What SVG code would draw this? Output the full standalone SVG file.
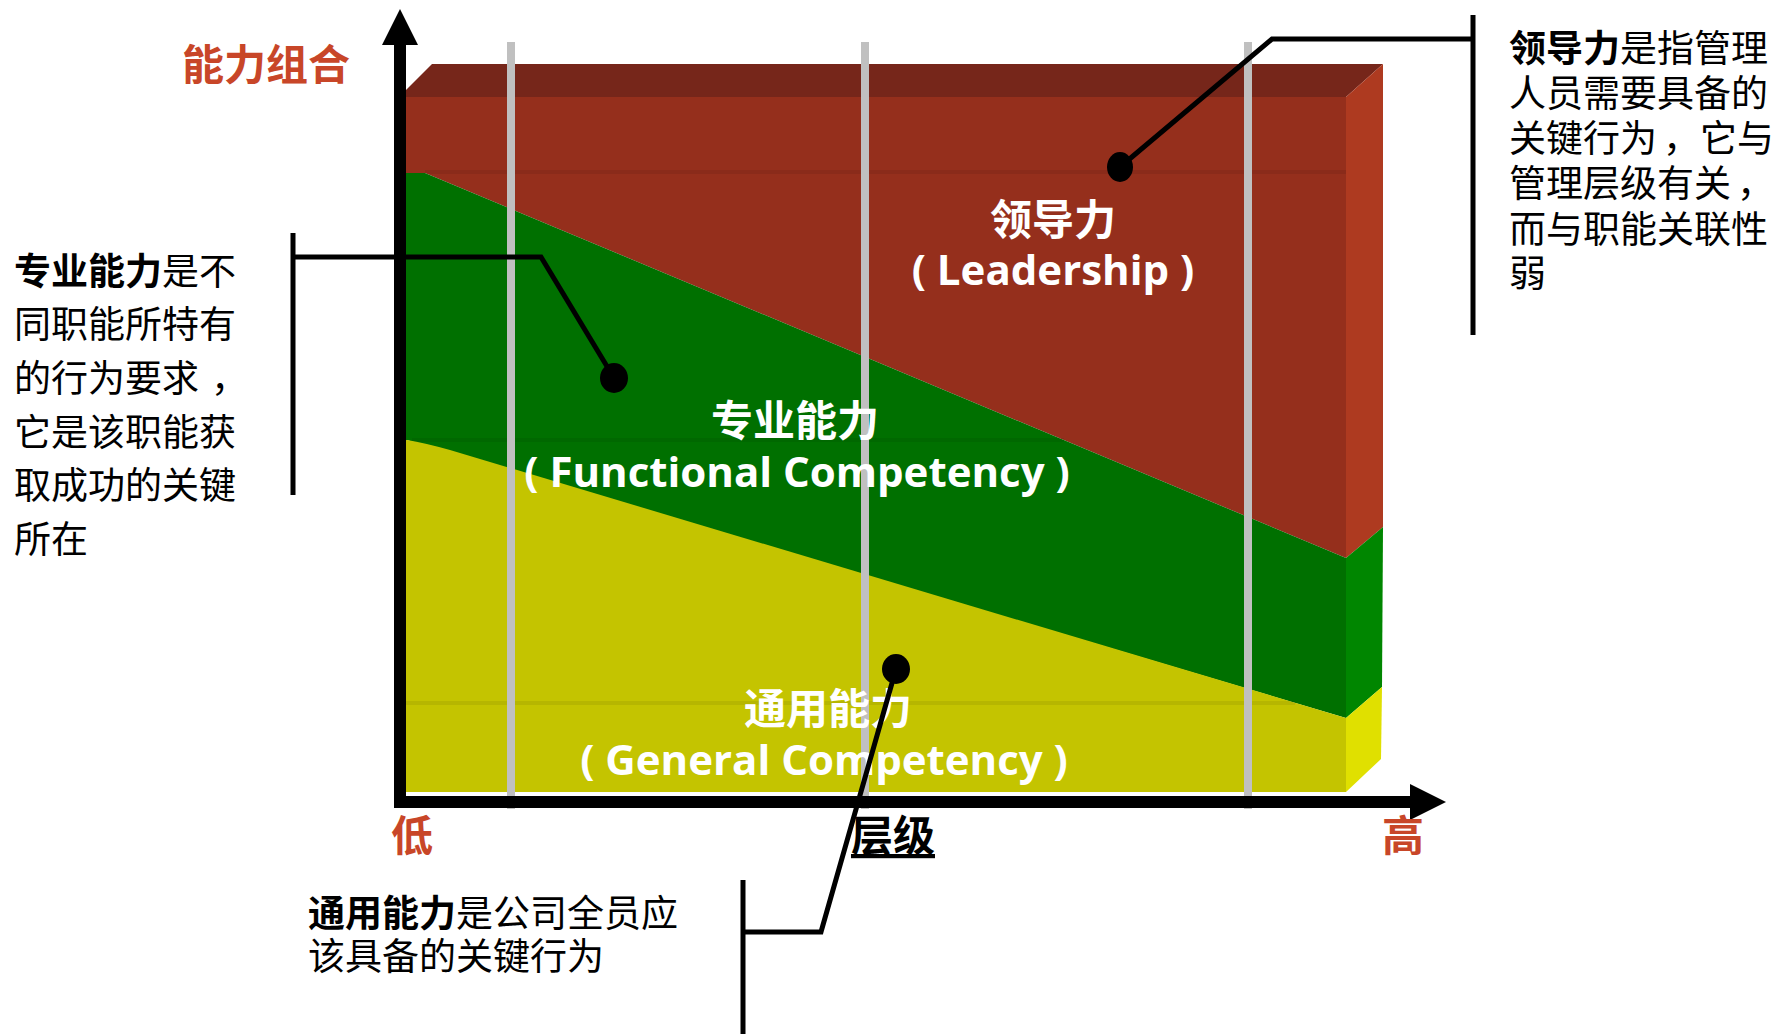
<svg xmlns="http://www.w3.org/2000/svg" width="1776" height="1034" viewBox="0 0 1776 1034">
<style>
.cjk{font-family:"Noto Sans CJK SC","Liberation Sans",sans-serif}
.lat{font-family:"Open Sans","Noto Sans CJK SC",sans-serif;font-weight:bold}
.note{font-size:37px;fill:#000}
.lbl{font-size:42px;fill:#fff;font-weight:bold;text-anchor:middle}
.axlbl{font-size:42px;font-weight:bold;fill:#C84628}
.grid{stroke:#C0C0C0;stroke-width:8}
.conn{fill:none;stroke:#000;stroke-width:5;stroke-linejoin:miter}
.ax{stroke:#000;stroke-width:12}
.edge{stroke:#000;stroke-opacity:0.07;stroke-width:4}
</style>
<rect width="1776" height="1034" fill="#fff"/>

<g id="prism">
  <polygon points="399,97 1346,97 1383,64 432,64" fill="#76261A"/>
  <polygon points="404,97 1346,97 1346,558 425,173 404,173" fill="#952F1C"/>
  <line class="edge" x1="425" y1="172" x2="1346" y2="172"/>
  <polygon points="404,173 425,173 1346,558 1346,718 407,440 404,440" fill="#007000"/>
  <line class="edge" x1="412" y1="440" x2="1064" y2="440"/>
  <path d="M404,440 L407,440 Q425,443 450,450 L1346,718 L1346,792 L404,792 Z" fill="#C4C400"/>
  <line class="edge" x1="404" y1="703" x2="1295" y2="703"/>
  <polygon points="1346,97 1383,64 1383,527 1346,558" fill="#AE3A20"/>
  <polygon points="1346,558 1383,527 1382,687 1346,718" fill="#008600"/>
  <polygon points="1346,718 1382,687 1381,759 1346,792" fill="#E0E000"/>
</g>

<g id="gridlines">
  <line class="grid" x1="511" y1="42" x2="511" y2="809"/>
  <line class="grid" x1="865" y1="42" x2="865" y2="809"/>
  <line class="grid" x1="1248" y1="42" x2="1248" y2="809"/>
</g>

<g id="axes">
  <line class="ax" x1="400" y1="808" x2="400" y2="40"/>
  <polygon points="400,9 382,45 418,45" fill="#000"/>
  <line class="ax" x1="394" y1="802" x2="1412" y2="802"/>
  <polygon points="1446,802 1410,784 1410,820" fill="#000"/>
  <text class="cjk axlbl" x="266" y="80" text-anchor="middle">能力组合</text>
  <text class="cjk axlbl" x="412" y="851" text-anchor="middle">低</text>
  <text class="cjk axlbl" x="1403" y="851" text-anchor="middle">高</text>
  <text class="cjk" x="893" y="851" text-anchor="middle" font-size="42" font-weight="bold" fill="#000" text-decoration="underline">层级</text>
</g>

<g id="node-leadership">
  <text class="cjk lbl" x="1053" y="235">领导力</text>
  <text class="lat lbl" x="1053" y="285">( Leadership )</text>
</g>
<g id="node-functional">
  <text class="cjk lbl" x="795" y="436">专业能力</text>
  <text class="lat lbl" x="797" y="487" font-size="44">( Functional Competency )</text>
</g>
<g id="node-general">
  <text class="cjk lbl" x="828" y="724">通用能力</text>
  <text class="lat lbl" x="824" y="775" font-size="44">( General Competency )</text>
</g>

<g id="note-leadership" class="cjk note">
  <text x="1509" y="62"><tspan font-weight="bold">领导力</tspan>是指管理</text>
  <text x="1509" y="107">人员需要具备的</text>
  <text x="1509" y="152">关键行为<tspan dx="6">，</tspan>它与</text>
  <text x="1509" y="197">管理层级有关<tspan dx="6">，</tspan></text>
  <text x="1509" y="243">而与职能关联性</text>
  <text x="1509" y="287">弱</text>
</g>
<g id="note-functional" class="cjk note">
  <text x="14" y="285"><tspan font-weight="bold">专业能力</tspan>是不</text>
  <text x="14" y="338">同职能所特有</text>
  <text x="14" y="392">的行为要求<tspan dx="12">，</tspan></text>
  <text x="14" y="446">它是该职能获</text>
  <text x="14" y="499">取成功的关键</text>
  <text x="14" y="553">所在</text>
</g>
<g id="note-general" class="cjk note">
  <text x="308" y="927"><tspan font-weight="bold">通用能力</tspan>是公司全员应</text>
  <text x="308" y="970">该具备的关键行为</text>
</g>

<g id="connectors">
  <line class="conn" x1="1473" y1="15" x2="1473" y2="335"/>
  <polyline class="conn" points="1473,39 1272,39 1120,167"/>
  <ellipse cx="1120" cy="167" rx="13" ry="15" fill="#000"/>
  <line class="conn" x1="293" y1="233" x2="293" y2="495"/>
  <polyline class="conn" points="293,257 541,257 614,378"/>
  <ellipse cx="614" cy="378" rx="14" ry="15" fill="#000"/>
  <line class="conn" x1="743" y1="880" x2="743" y2="1034"/>
  <polyline class="conn" points="743,932 821,932 896,669"/>
  <ellipse cx="896" cy="669" rx="14" ry="15" fill="#000"/>
</g>
</svg>
